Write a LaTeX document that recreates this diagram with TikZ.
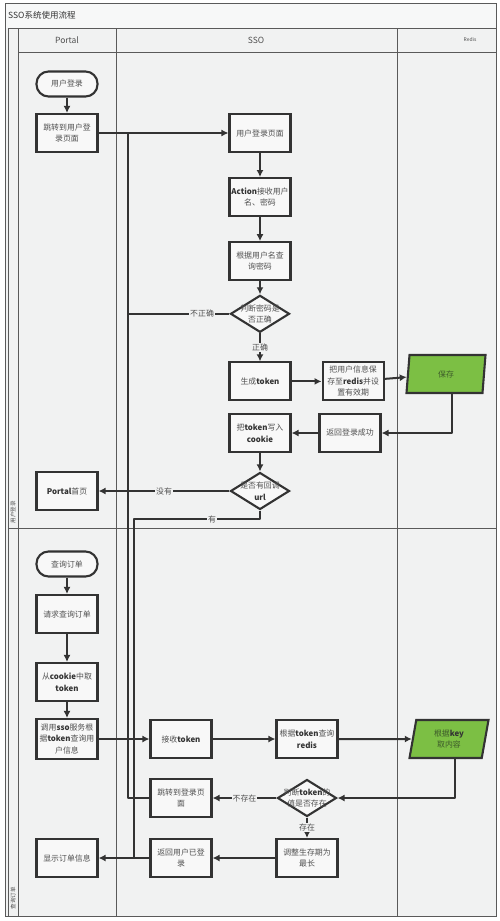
\documentclass[tikz,border=0pt]{standalone}
\usepackage{fontspec}
\setmainfont{Noto Sans CJK SC}
\usetikzlibrary{arrows.meta,positioning,shapes.geometric}
\definecolor{Ink}{HTML}{333333}
\definecolor{Txt}{HTML}{505050}
\definecolor{Rule}{HTML}{5A5A5A}
\definecolor{Bg}{HTML}{F1F2F2}
\definecolor{Head}{HTML}{F7F8F8}
\definecolor{BoxFill}{HTML}{F8F8F8}
\definecolor{Leaf}{HTML}{7CBF44}
\definecolor{LeafTxt}{HTML}{3D5A2A}
\newcommand\boxfont{\fontsize{7.9pt}{11.5pt}\selectfont}
\newcommand\kw[1]{\textbf{\color{Ink}#1}}
\tikzset{
  lane/.style={draw=Rule,line width=.8pt},
  head/.style={text=Txt,font=\fontsize{8.5pt}{10pt}\selectfont},
  sidelbl/.style={rotate=90,text=Txt,font=\fontsize{5.5pt}{7pt}\selectfont},
  proc/.style={draw=Ink,fill=BoxFill,line width=2.1pt,minimum width=61pt,minimum height=38pt,align=center,inner sep=1pt,text=Txt,font=\boxfont},
  term/.style={proc,rounded corners=12pt,minimum height=25pt},
  decision/.style={diamond,draw=Ink,fill=BoxFill,line width=2.1pt,minimum width=59pt,minimum height=37pt,inner sep=0pt},
  store/.style={trapezium,trapezium left angle=72,trapezium right angle=108,trapezium stretches body,draw=Ink,fill=Leaf,line width=2.1pt,minimum width=79pt,minimum height=38pt,align=center,inner sep=1pt,text=LeafTxt,font=\boxfont},
  flow/.style={-{Latex[length=7pt,width=7pt]},draw=Ink,line width=2pt,line join=round},
  link/.style={draw=Ink,line width=2pt,line join=round},
  tag/.style={fill=Bg,inner sep=1pt,text=Txt,font=\boxfont}
}
\begin{document}
\begin{tikzpicture}[x=1pt,y=-1pt,node distance=24pt]
  \fill[white] (0,0) rectangle (500,921);
  \useasboundingbox (0,0) rectangle (500,921);
  % swimlanes
  \fill[Bg] (5,3) rectangle (496,916);
  \fill[Head] (5,3) rectangle (496,28);
  \draw[lane] (5,3) rectangle (496,916);
  \draw[lane] (8,28) -- (496,28) (18,52) -- (496,52) (8,528) -- (496,528);
  \draw[lane] (8,28) -- (8,916) (18,28) -- (18,916) (116,28) -- (116,916) (397,28) -- (397,916);
  \node[anchor=west,text=Ink,font=\fontsize{8.5pt}{10pt}\selectfont,inner sep=0pt] (title) at (8,15) {SSO系统使用流程};
  \node[head] (hportal) at (67,40) {Portal};
  \node[head] (hsso) at (256,40) {SSO};
  \node[head,font=\fontsize{5pt}{6pt}\selectfont] (hredis) at (470,40) {Redis};
  \node[sidelbl] (laneA) at (13,512) {用户登录};
  \node[sidelbl] (laneB) at (13,898) {查询订单};

  % login
  \node[term] (start1) at (67,84) {用户登录};
  \node[proc] (jump1) at (67,133) {跳转到用户登\\录页面};
  \node[proc] (loginpg) at (260,133) {用户登录页面};
  \node[proc,below=of loginpg] (action) {\kw{Action}接收用户\\名、密码};
  \node[proc,below=of action] (query) {根据用户名查\\询密码};
  \node[decision,below=13pt of query,label={[text=Txt,font=\boxfont,align=center]center:判断密码是\\否正确}] (check1) {};
  \node[proc,below=28pt of check1] (token) {生成\kw{token}};
  \node[proc,right=30pt of token] (saveinfo) {把用户信息保\\存至\kw{redis}并设\\置有效期};
  \node[store] (save) at (446,374) {保存};
  \node[proc] (retok) at (350,433) {返回登录成功};
  \node[proc] (cookie) at (260,433) {把\kw{token}写入\\\kw{cookie}};
  \node[decision,label={[text=Txt,font=\boxfont,align=center]center:是否有回调\\\kw{url}}] (check2) at (260,491) {};
  \node[proc] (portal) at (67,491) {\kw{Portal}首页};
  \coordinate (busA) at (128,133);
  \coordinate (busB) at (134,519);

  % order query
  \node[term] (start2) at (67,564) {查询订单};
  \node[proc] (req) at (67,614) {请求查询订单};
  \node[proc] (cookie2) at (67,682) {从\kw{cookie}中取\\\kw{token}};
  \node[proc,minimum height=40pt] (callsso) at (67,739) {调用\kw{sso}服务根\\据\kw{token}查询用\\户信息};
  \node[proc] (recv) at (181,739) {接收\kw{token}};
  \node[proc] (querytok) at (307,739) {根据\kw{token}查询\\\kw{redis}};
  \node[store] (getkey) at (449,739) {根据\kw{key}\\取内容};
  \node[decision,label={[text=Txt,font=\boxfont,align=center]center:判断\kw{token}的\\值是否存在}] (check3) at (307,798) {};
  \node[proc] (relogin) at (181,798) {跳转到登录页\\面};
  \node[proc] (extend) at (307,858) {调整生存期为\\最长};
  \node[proc] (retlog) at (181,858) {返回用户已登\\录};
  \node[proc] (showord) at (67,858) {显示订单信息};

  \draw[flow] (start1) -- (jump1);
  \draw[flow] (jump1) -- (loginpg);
  \draw[flow] (loginpg) -- (action);
  \draw[flow] (action) -- (query);
  \draw[flow] (query) -- (check1);
  \draw[link] (check1.west) -- node[tag,pos=.27] {不正确} (check1.west -| busA) -- (busA);
  \draw[flow] (check1) -- node[tag] {正确} (token);
  \draw[flow] (token) -- (saveinfo);
  \draw[flow] (saveinfo) -- (save);
  \draw[flow] ([xshift=6pt]save.south) |- (retok);
  \draw[flow] (retok) -- (cookie);
  \draw[flow] (cookie) -- (check2);
  \draw[flow] (check2) -- node[tag] {没有} (portal);
  \draw[link] (check2.south) |- node[tag,pos=.69] {有} (busB) -- (busB |- retlog);

  \draw[flow] (start2) -- (req);
  \draw[flow] (req) -- (cookie2);
  \draw[flow] (cookie2) -- (callsso);
  \draw[flow] (callsso) -- (recv);
  \draw[flow] (recv) -- (querytok);
  \draw[flow] (querytok) -- (getkey);
  \draw[flow] ([xshift=6pt]getkey.south) |- (check3);
  \draw[flow] (check3) -- node[tag] {不存在} (relogin);
  \draw[link] (relogin.west) -| (busA);
  \draw[flow] (check3) -- node[tag] {存在} (extend);
  \draw[flow] (extend) -- (retlog);
  \draw[flow] (retlog) -- (showord);
\end{tikzpicture}
\end{document}
